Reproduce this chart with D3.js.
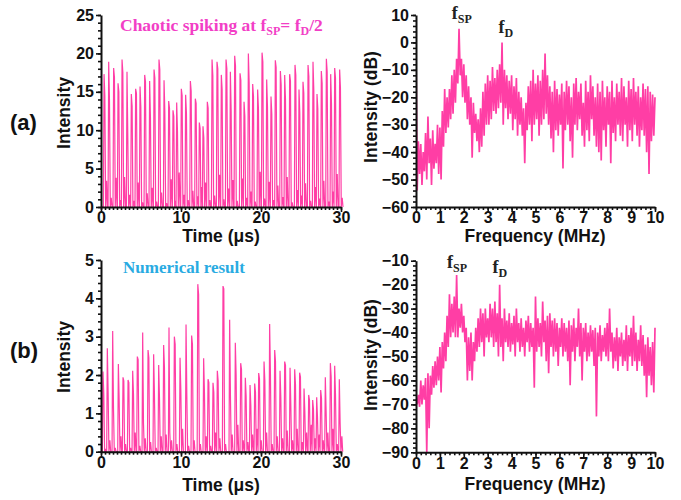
<!DOCTYPE html>
<html>
<head>
<meta charset="UTF-8">
<title>Chaotic spiking</title>
<script src="https://d3js.org/d3.v7.min.js"></script>
<style>
  body { margin: 0; background: #fff; }
  svg { display: block; font-family: "Liberation Sans", Arial, sans-serif; }
  .axis path, .axis line { stroke: #111; }
  .axis path { stroke-width: 2; }
  .axis line { stroke-width: 1.6; }
  .axis text { font-size: 16px; font-weight: bold; fill: #111; font-family: "Liberation Sans", Arial, sans-serif; }
  .title { font-size: 17.5px; font-weight: bold; fill: #111; }
  .panel { font-size: 22px; font-weight: bold; fill: #111; }
  .trace { fill: none; stroke: #ff3ea5; stroke-width: 1.2; }
  .spec { stroke-width: 1.7; stroke-linejoin: miter; }
  .note { font-family: "Liberation Serif", "DejaVu Serif", serif; font-weight: bold; }
</style>
</head>
<body>
<svg width="681" height="500"></svg>
<script>
// (a) measured spike train: peak time (us), peak, second sample, small after-pulse
const aTimes = [0.38, 0.96, 1.58, 2.13, 2.63, 3.25, 3.79, 4.33, 4.88, 5.46, 6.08, 6.63, 7.25, 7.88, 8.46, 9.0, 9.46,
  10.04, 10.58, 11.17, 11.79, 12.29, 12.75, 13.29, 13.88, 14.5, 15.04, 15.63, 16.17, 16.71, 17.38, 17.88, 18.42, 18.96,
  19.58, 20.13, 20.71, 21.25, 21.79, 22.42, 22.96, 23.58, 24.25, 24.75, 25.25, 25.88, 26.5, 27.0, 27.54, 28.17, 28.71,
  29.21, 29.83];
const aPeaks = [17.3, 18.9, 18.1, 16.1, 19.2, 17.6, 14.7, 15.4, 15.7, 17.2, 16.4, 17.9, 19.2, 16.5, 13.8, 12.6, 13.6,
  15.4, 14.6, 16.4, 14.1, 11.0, 10.5, 13.7, 19.2, 18.9, 17.2, 19.2, 17.6, 19.7, 17.4, 13.7, 20.0, 16.0, 15.3, 20.1,
  16.6, 14.4, 19.1, 17.7, 17.2, 17.3, 18.5, 15.3, 16.3, 18.5, 18.9, 14.7, 17.7, 19.3, 17.3, 18.1, 17.9];
const aSecond = [14.5, 13.8, 16.9, 15.0, 17.5, 9.2, 13.1, 14.8, 13.0, 16.3, 11.6, 16.8, 17.9, 12.4, 12.9, 11.8, 9.8,
  14.5, 12.2, 15.1, 13.5, 10.2, 9.0, 12.9, 17.1, 18.0, 15.3, 18.0, 12.5, 18.4, 16.5, 11.8, 16.2, 14.4, 12.8, 18.9,
  13.0, 12.1, 18.2, 15.9, 14.0, 16.4, 17.2, 12.2, 14.8, 17.0, 15.2, 12.8, 16.1, 17.6, 13.4, 16.8, 15.5];
const aAfter = [3.4, 1.2, 3.8, 0.9, 3.9, 1.6, 0.8, 3.2, 0.6, 1.8, 2.5, 0.7, 1.9, 0.5, 3.6, 0.8, 4.5, 1.6, 0.9, 2.1,
  1.4, 2.6, 3.2, 0.9, 1.5, 4.2, 1.0, 2.4, 3.5, 0.8, 3.7, 1.2, 2.0, 0.7, 4.6, 1.1, 3.3, 0.9, 2.8, 1.3, 3.9, 0.6, 2.2,
  1.5, 3.1, 0.8, 2.6, 1.1, 3.4, 0.7, 2.0, 4.3, 1.2];

// (b) numerical spike train
const bTimes = [0.25, 0.79, 1.46, 2.17, 2.75, 3.38, 3.96, 4.54, 5.21, 5.88, 6.58, 7.21, 7.83, 8.5, 9.17, 9.88, 10.63,
  11.33, 12.1, 12.83, 13.38, 14.0, 14.54, 15.25, 16.08, 16.79, 17.46, 18.04, 18.63, 19.21, 19.71, 20.38, 21.08, 21.71,
  22.38, 22.96, 23.63, 24.21, 24.83, 25.38, 25.96, 26.46, 26.96, 27.46, 28.04, 28.67, 29.21, 29.79];
const bPeaks = [2.09, 2.70, 3.15, 2.29, 1.94, 1.87, 2.11, 2.48, 3.11, 2.65, 2.54, 2.26, 2.78, 3.24, 3.00, 2.45, 3.32,
  3.03, 4.37, 2.44, 1.89, 1.80, 2.11, 4.32, 3.44, 2.84, 2.31, 1.93, 1.74, 1.78, 2.05, 2.35, 3.33, 2.65, 2.11, 2.35,
  2.19, 2.15, 2.06, 1.65, 1.48, 1.35, 1.42, 1.61, 1.94, 2.31, 2.24, 1.89];
const bSecond = [1.5, 1.55, 1.15, 1.35, 1.85, 1.8, 1.5, 2.4, 0.75, 2.45, 1.5, 1.4, 2.2, 0.5, 2.8, 1.6, 1.45, 2.8, 4.1,
  1.55, 1.8, 1.55, 1.85, 4.25, 1.45, 2.0, 2.15, 1.45, 1.2, 1.55, 1.9, 1.85, 2.0, 2.35, 1.4, 2.25, 1.2, 1.75, 1.95, 1.05,
  1.35, 1.1, 0.9, 1.4, 1.05, 1.95, 1.5, 0.75];
const bAfter = [0.05, 0.3, 0.1, 0.4, 0.2, 0.1, 0.5, 0.15, 0.35, 0.25, 0.1, 0.4, 0.45, 0.3, 0.2, 0.6, 0.15, 0.3, 0.2,
  0.4, 0.15, 0.5, 0.35, 0.2, 0.45, 0.7, 0.3, 0.25, 0.45, 0.6, 0.3, 0.5, 0.2, 0.4, 0.35, 0.55, 0.3, 0.6, 0.25, 0.5,
  0.7, 0.35, 0.45, 0.3, 0.5, 0.6, 0.2, 0.4];

// RF spectra, dB, one value every 0.05 MHz from 0 to 10 MHz
const specStep = 0.05;
const specA = [
  -3, -54, -36, -48, -37, -52, -40, -47, -33, -50, -27, -44, -35, -52, -32, -46, -37, -44, -30, -48,
  -31, -50, -25, -38, -17, -33, -20, -31, -17, -28, -12, -26, -10, -22, -6, -15, 5, -12, -6, -20,
  -8, -22, -12, -28, -16, -30, -20, -42, -22, -33, -26, -36, -28, -40, -24, -38, -18, -34, -15, -30,
  -12, -30, -14, -28, -9, -25, -13, -26, -10, -24, -8, -22, 0, -30, -10, -24, -12, -28, -14, -26,
  -12, -32, -16, -28, -13, -34, -18, -30, -20, -34, -24, -44, -22, -32, -16, -30, -14, -36, -10, -30,
  -15, -28, -12, -34, -14, -30, -10, -28, -4, -26, -12, -30, -16, -35, -18, -40, -14, -32, -17, -34,
  -19, -30, -15, -46, -18, -32, -14, -30, -16, -36, -20, -42, -15, -30, -13, -32, -18, -28, -15, -34,
  -22, -38, -14, -32, -18, -36, -12, -28, -16, -34, -20, -38, -15, -40, -18, -43, -14, -32, -20, -38,
  -16, -30, -18, -44, -14, -33, -20, -36, -15, -30, -18, -34, -13, -36, -16, -30, -20, -38, -14, -32,
  -17, -36, -13, -30, -18, -34, -16, -38, -20, -32, -15, -34, -17, -40, -16, -48, -18, -36, -19, -34,
  -20];
const specB = [
  -68, -70, -66, -71, -60, -70, -62, -68, -59, -90, -57, -80, -58, -66, -54, -63, -52, -62, -50, -60,
  -46, -65, -44, -55, -40, -52, -33, -46, -24, -42, -28, -40, -25, -42, -16, -42, -30, -38, -28, -40,
  -33, -44, -38, -60, -42, -56, -40, -60, -44, -52, -38, -48, -34, -46, -30, -44, -32, -50, -30, -42,
  -34, -44, -28, -42, -30, -46, -27, -44, -32, -50, -20, -46, -34, -52, -30, -44, -35, -46, -32, -48,
  -36, -45, -33, -50, -30, -44, -36, -48, -34, -46, -38, -50, -35, -44, -33, -48, -36, -46, -38, -63,
  -25, -48, -34, -46, -36, -50, -27, -44, -35, -52, -33, -57, -32, -46, -35, -50, -34, -48, -36, -54,
  -38, -46, -34, -50, -36, -48, -38, -52, -35, -62, -37, -48, -34, -52, -38, -46, -30, -50, -36, -60,
  -38, -48, -36, -52, -40, -50, -37, -48, -39, -54, -38, -75, -40, -50, -37, -52, -41, -48, -38, -50,
  -36, -52, -30, -48, -40, -55, -42, -52, -38, -56, -42, -50, -40, -54, -43, -52, -37, -56, -41, -50,
  -38, -54, -33, -52, -40, -56, -43, -52, -37, -54, -41, -58, -45, -67, -42, -58, -46, -62, -44, -65,
  -38];

const timeTicks = [0, 10, 20, 30];
const freqTicks = [0, 1, 2, 3, 4, 5, 6, 7, 8, 9, 10];
const aIntTicks = [0, 5, 10, 15, 20, 25];
const bIntTicks = [0, 1, 2, 3, 4, 5];
const aDbTicks = [10, 0, -10, -20, -30, -40, -50, -60];
const bDbTicks = [-10, -20, -30, -40, -50, -60, -70, -80, -90];

const svg = d3.select("svg");

// pixel boxes of the four plots
const boxes = {
  a1: { l: 101, r: 341, t: 15, b: 207 },
  a2: { l: 416, r: 655, t: 15, b: 207 },
  b1: { l: 101, r: 341, t: 260, b: 451.7 },
  b2: { l: 416, r: 655, t: 260.7, b: 452.3 }
};

function drawAxes(box, x, y, xt, yt, xMinor, yMinor) {
  const g = svg.append("g");
  g.append("g").attr("class", "axis").attr("transform", `translate(0,${box.b})`)
    .call(d3.axisBottom(x).tickValues(xMinor).tickSize(3).tickFormat(""))
    .call(s => s.select(".domain").remove());
  g.append("g").attr("class", "axis").attr("transform", `translate(${box.l},0)`)
    .call(d3.axisLeft(y).tickValues(yMinor).tickSize(3).tickFormat(""))
    .call(s => s.select(".domain").remove());
  g.append("g").attr("class", "axis").attr("transform", `translate(0,${box.b})`)
    .call(d3.axisBottom(x).tickValues(xt).tickSize(5).tickSizeOuter(0).tickPadding(0).tickFormat(d3.format("d")));
  g.append("g").attr("class", "axis").attr("transform", `translate(${box.l},0)`)
    .call(d3.axisLeft(y).tickValues(yt).tickSize(5).tickSizeOuter(0).tickPadding(2).tickFormat(d3.format("d")));
}

function spikePoints(times, peaks, second, after) {
  const pts = [[0, 0]];
  times.forEach((t, i) => {
    pts.push([t - 0.08, 0], [t, peaks[i]], [t + 0.1, second[i]], [t + 0.2, 0],
      [t + 0.32, after[i]], [t + 0.42, 0]);
  });
  return pts;
}

function timePanel(box, ymax, yTicks, yMinorStep, times, peaks, second, after) {
  const x = d3.scaleLinear().domain([0, 30]).range([box.l, box.r]);
  const y = d3.scaleLinear().domain([0, ymax]).range([box.b, box.t]);
  const line = d3.line().x(d => x(d[0])).y(d => y(d[1]));
  svg.append("path").attr("class", "trace")
    .attr("d", line(spikePoints(times, peaks, second, after)));
  drawAxes(box, x, y, timeTicks, yTicks, d3.range(0, 30.01, 0.5), d3.range(0, ymax + 0.001, yMinorStep));
}

function specPanel(box, ymin, ymax, yTicks, spec, id) {
  const x = d3.scaleLinear().domain([0, 10]).range([box.l, box.r]);
  const y = d3.scaleLinear().domain([ymin, ymax]).range([box.b, box.t]);
  svg.append("clipPath").attr("id", id).append("rect")
    .attr("x", box.l).attr("y", box.t - 2).attr("width", box.r - box.l + 2).attr("height", box.b - box.t + 2);
  const line = d3.line().x((d, i) => x(i * specStep)).y(d => y(d));
  svg.append("path").attr("class", "trace spec").attr("clip-path", `url(#${id})`).attr("d", line(spec));
  drawAxes(box, x, y, freqTicks, yTicks, d3.range(0, 10.01, 0.2), d3.range(ymin, ymax + 0.01, 2));
  return x;
}

timePanel(boxes.a1, 25, aIntTicks, 1, aTimes, aPeaks, aSecond, aAfter);
timePanel(boxes.b1, 5, bIntTicks, 0.2, bTimes, bPeaks, bSecond, bAfter);
const xa = specPanel(boxes.a2, -60, 10, aDbTicks, specA, "clipA");
const xb = specPanel(boxes.b2, -90, -10, bDbTicks, specB, "clipB");

// axis titles
function vTitle(x, y, txt) {
  svg.append("text").attr("class", "title").attr("text-anchor", "middle")
    .attr("transform", `translate(${x},${y}) rotate(-90)`).text(txt);
}
function hTitle(x, y, txt) {
  svg.append("text").attr("class", "title").attr("text-anchor", "middle").attr("x", x).attr("y", y).text(txt);
}
vTitle(70, 113, "Intensity");
vTitle(70, 357, "Intensity");
vTitle(377, 107, "Intensity (dB)");
vTitle(377, 355, "Intensity (dB)");
hTitle(221, 242, "Time (\u03bcs)");
hTitle(221, 491, "Time (\u03bcs)");
hTitle(535, 242, "Frequency (MHz)");
hTitle(535, 490, "Frequency (MHz)");

svg.append("text").attr("class", "panel").attr("x", 10).attr("y", 130).text("(a)");
svg.append("text").attr("class", "panel").attr("x", 10).attr("y", 358).text("(b)");

// annotations
const pink = "#f23ec6";
const n1 = svg.append("text").attr("class", "note").attr("x", 120).attr("y", 31)
  .attr("fill", pink).attr("font-size", 17.5);
n1.append("tspan").text("Chaotic spiking at f");
n1.append("tspan").attr("font-size", 12).attr("dy", 4).text("SP");
n1.append("tspan").attr("dy", -4).text("= f");
n1.append("tspan").attr("font-size", 12).attr("dy", 4).text("D");
n1.append("tspan").attr("dy", -4).text("/2");

svg.append("text").attr("class", "note").attr("x", 123).attr("y", 273)
  .attr("fill", "#29abe2").attr("font-size", 17).text("Numerical result");

function fLabel(x, y, sub) {
  const t = svg.append("text").attr("class", "note").attr("x", x).attr("y", y)
    .attr("fill", "#222").attr("font-size", 18);
  t.append("tspan").text("f");
  t.append("tspan").attr("font-size", 12).attr("dy", 4).text(sub);
}
fLabel(xa(1.5), 19, "SP");
fLabel(xa(3.45), 33, "D");
fLabel(xb(1.3), 268, "SP");
fLabel(xb(3.2), 273, "D");
</script>
</body>
</html>
